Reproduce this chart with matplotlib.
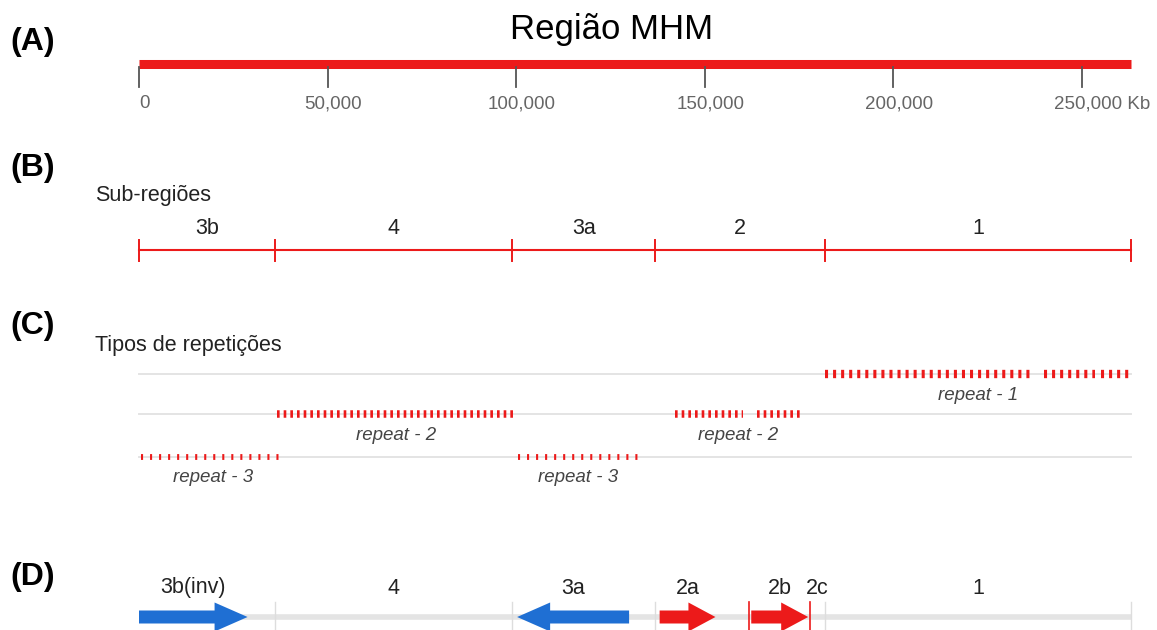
import matplotlib
matplotlib.use("Agg")
import matplotlib.pyplot as plt
import matplotlib.transforms as mtransforms
from matplotlib.patches import FancyArrow

plt.rcParams.update({"font.family": ["Liberation Sans", "DejaVu Sans"],
                     "lines.scale_dashes": False})

RED   = "#ec1a1a"
BLUE  = "#1f6fd3"
TRACK = "#e4e4e4"
GREY_TXT = "#666666"

# (A) full region, Kb
region_end  = 263000
axis_ticks  = [0, 50000, 100000, 150000, 200000, 250000]
tick_labels = ["0", "50,000", "100,000", "150,000", "200,000", "250,000 Kb"]

# (B) sub-regions
sub_names  = ["3b", "4", "3a", "2", "1"]
sub_bounds = [0, 36000, 99000, 137000, 182000, 263000]

# (C) repeat blocks, one list of clusters per repeat type
repeat1_blocks = [[(182000, 237000), (240000, 253500), (255300, 263000)]]
repeat2_blocks = [[(36500, 99700)], [(142300, 160300), (164000, 175700)]]
repeat3_blocks = [[(500, 38600)], [(100500, 132300)]]
repeat_names   = ["repeat - 1", "repeat - 2", "repeat - 3"]

# (D) rearranged sub-regions
d_names   = ["3b(inv)", "4", "3a", "2a", "2b", "2c", "1"]
d_starts  = [0, 36000, 99000, 137000, 162000, 178000, 182000]
d_ends    = [36000, 99000, 137000, 162000, 178000, 182000, 263000]
d_arrows  = [(0, 28800), None, (130000, 100300), (138100, 152900), (162400, 177500), None, None]
d_colors  = [BLUE, None, BLUE, RED, RED, None, None]
d_red_marks = [161900, 178000]

W, H = 1157, 630
KB_PER_PX = 50000 / 188.5
X0_PX = 139

fig = plt.figure(figsize=(W / 100, H / 100), dpi=100)
ax = fig.add_axes([0, 0, 1, 1])
ax.set_xlim(-X0_PX * KB_PER_PX, (W - X0_PX) * KB_PER_PX)
ax.set_ylim(H, 0)
ax.axis("off")
left = mtransforms.blended_transform_factory(ax.transAxes, ax.transData)

def panel(letter, y, header=None, header_y=None):
    ax.text(10 / W, y, letter, transform=left, fontsize=23, fontweight="bold",
            va="center", ha="left")
    if header:
        ax.text(95 / W, header_y, header, transform=left, fontsize=15.5,
                va="center", ha="left", color="#222222")

# ---- (A)
panel("(A)", 42)
ax.text(612 / W, 30, "Região MHM", transform=left, fontsize=25, ha="center", va="center")
ax.plot([0, region_end], [64, 64], color=RED, lw=6.5, solid_capstyle="butt")
for t, lab in zip(axis_ticks, tick_labels):
    ax.plot([t, t], [67, 87], color="#555555", lw=1.3)
    if lab.endswith("Kb"):
        ax.text(t - 28 * KB_PER_PX, 104, lab, fontsize=13.5, color=GREY_TXT,
                va="center", ha="left")
    else:
        ax.text(t + 6 * KB_PER_PX, 104, lab, fontsize=13.5, color=GREY_TXT,
                va="center", ha="center")

# ---- (B)
panel("(B)", 168, "Sub-regiões", 196)
ax.plot([sub_bounds[0], sub_bounds[-1]], [250, 250], color=RED, lw=1.5)
for b in sub_bounds:
    ax.plot([b, b], [240, 261], color=RED, lw=1.4)
for name, a, b in zip(sub_names, sub_bounds[:-1], sub_bounds[1:]):
    ax.text((a + b) / 2, 228, name, fontsize=15.5, ha="center", va="center", color="#222222")

# ---- (C)
panel("(C)", 326, "Tipos de repetições", 346)
track_y = [374, 414, 457]
dash_style = [(6.0, (2.2, 3.6)), (5.4, (1.9, 2.9)), (4.2, (1.5, 5.0))]
for blocks, name, y, (lw, dashes) in zip([repeat1_blocks, repeat2_blocks, repeat3_blocks],
                                         repeat_names, track_y, dash_style):
    ax.plot([0, region_end], [y, y], color=TRACK, lw=1.4, zorder=1)
    for cluster in blocks:
        for s, e in cluster:
            ax.plot([s, e], [y, y], color=RED, lw=lw, dashes=dashes,
                    solid_capstyle="butt", dash_capstyle="butt", zorder=2)
        mid = (cluster[0][0] + cluster[-1][1]) / 2
        ax.text(mid, y + 21, name, fontsize=13.5, style="italic", color="#444444",
                ha="center", va="center")

# ---- (D)
panel("(D)", 577)
yd = 617
ax.plot([0, region_end], [yd, yd], color=TRACK, lw=4, solid_capstyle="butt", zorder=1)
for b in sub_bounds[1:]:
    ax.plot([b, b], [602, H], color="#dddddd", lw=1, zorder=1)
for m in d_red_marks:
    ax.plot([m, m], [602, H], color=RED, lw=1.2, zorder=3)
for name, s, e, arr, col in zip(d_names, d_starts, d_ends, d_arrows, d_colors):
    if arr is not None:
        x0, x1 = arr
        hl = (33 if col == BLUE else 27) * KB_PER_PX
        ax.add_patch(FancyArrow(x0, yd, x1 - x0, 0, width=13, head_width=29,
                                head_length=hl, length_includes_head=True,
                                color=col, lw=0, zorder=4))
        xm = (x0 + x1) / 2
    else:
        xm = (s + e) / 2
    ax.text(xm, 588, name, fontsize=15.5, ha="center", va="center", color="#222222")

fig.savefig("out.png", dpi=100)
